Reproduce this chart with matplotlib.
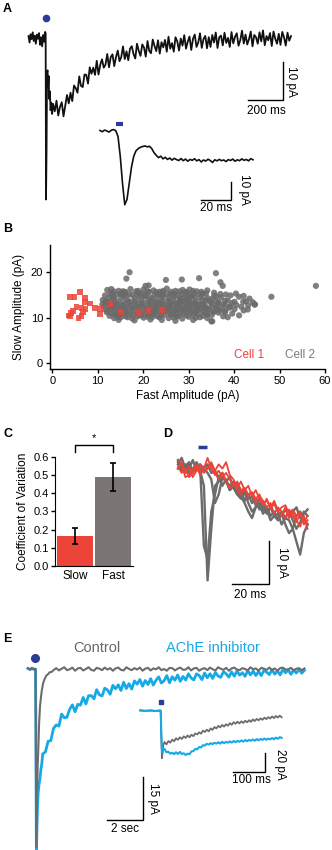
import numpy as np
import matplotlib
matplotlib.use("Agg")
from matplotlib import pyplot as plt

plt.rcParams['font.family'] = ['Liberation Sans', 'DejaVu Sans']

W, H = 332, 850
BLACK = '#111111'
BLUE = '#2c3d99'
RED = '#ec4438'
GRAY = '#6c6c6c'
BARGRAY = '#7b7575'
CYAN = '#15a9e6'

# ---- panel A: evoked current (ms, pA) ----
a_t_early = [-100, -94, -88, -82, -76, -70, -64, -58, -52, -46, -40, -34, -28, -22, -16, -10, -5, -2,
             0, 3, 6, 9, 12, 15, 18, 22, 26, 30, 35]
a_i_early = [0.5, -1.2, 1.0, -0.3, 1.5, -0.8, 0.6, -1.5, 0.9, -0.2, 1.3, -1.8, 0.2, -2.2, 0.8, -1.0, 1.6, 1.2,
             -42.5, -30, -9, -8.5, -13, -10, -16, -14, -19, -17, -20]
# sampled every 10 ms from 40 ms
a_i_late = [-17.3, -19.3, -16.5, -20.4, -18.1, -16.9, -20.6, -17.8, -15.0, -17.2,
            -14.4, -16.6, -12.5, -13.2, -14.4, -10.1, -12.6, -12.9, -9.6, -9.7,
            -12.0, -7.7, -9.4, -7.8, -9.7, -6.0, -9.6, -7.0, -5.6, -7.8,
            -7.0, -4.2, -7.7, -5.0, -4.3, -7.4, -5.0, -3.3, -6.1, -5.05,
            -2.2, -5.55, -3.5, -5.85, -2.8, -2.15, -4.2, -5.4, -1.5, -3.4,
            -4.7, -1.7, -2.5, -4.9, -0.8, -3.4, -4.0, -0.4, -2.1, -3.45,
            -0.6, -4.1, -1.1, -2.45, -0.5, -3.6, 0.35, -2.8, -1.35, -3.6,
            0.2, -0.85, -3.3, -0.15, -2.0, 0.75, -2.8, -0.95, 0.4, -3.15,
            -0.2, 0.9, -2.35, -1.2, 1.25, -2.6, -0.28, 0.55, -2.7, 0.22,
            -2.35, 0.8, -1.18, 1.45, -2.62, 0.2, 0.62, -1.95, 1.38, -1.3,
            0.02, -2.35, 1.57, -1.4, 0.32, 1.25, -2.03, -0.6, 1.92, -1.45,
            0.9, -1.7, -0.3, 1.7, -2.2, 0.8, 0.2, -1.5, 1.5, -0.9,
            2.0, -1.9, 0.5, -0.6, 1.3, -2.1, 1.7, -0.2, -1.5, 1.1,
            -1.8, 1.6, 0.2, -2.0, 1.4, -0.7, 0.5]
a_t_late = 40 + 10 * np.arange(len(a_i_late))

# inset of panel A, sampled every 1.5 ms
a_ins_i = [0.3, -0.4, 0.5, 0.1, -0.6, 0.4, 0.8, 0.2, -3, -14, -29, -41, -38, -29, -20, -14, -11, -9.8,
           -9, -8.6, -8.3, -8.8, -8.5, -9.8, -12, -13.5, -14.8, -14, -15.5, -14.6, -15.8, -15, -16.2,
           -15.2, -15.9, -16.4, -15.3, -16.5, -15.6, -16.8, -15.8, -16.3, -15.4, -16.6, -15.9, -17.2,
           -16.1, -16.7, -15.7, -16.4, -17.5, -16, -16.6, -15.8, -16.5, -16.1, -17, -15.9, -16.4, -15.6,
           -16.8, -16, -16.5, -15.5, -16.3, -15.8, -16.6, -15.4, -16]
a_ins_t = 1.5 * np.arange(len(a_ins_i))

# ---- panel B: scatter ----
gray_fast = [12.1, 14.6, 17.2, 18.4, 20.1, 22.3, 23.6, 25.2, 27.1, 28.7, 30.2, 31.8, 34.1,
             13.2, 16.1, 19.2, 21.3, 24.2, 26.1, 29.3, 31.2, 33.1, 35.6, 38.2, 40.4,
             11.6, 14.1, 15.6, 17.6, 20.4, 22.6, 24.4, 27.6, 30.6, 32.4, 36.1, 39.2, 42.1,
             12.4, 15.1, 18.1, 21.6, 23.1, 25.6, 28.1, 29.6, 31.4, 34.2, 37.1, 41.1, 43.4,
             11.1, 13.6, 16.6, 19.6, 22.1, 24.1, 26.6, 28.4, 30.1, 33.1, 35.1, 38.6, 42.6,
             12.0, 14.4, 17.1, 20.1, 21.1, 23.4, 25.1, 27.1, 29.1, 31.1, 34.6, 36.6, 40.1, 44.1,
             11.0, 13.1, 15.6, 18.1, 19.6, 22.6, 24.6, 26.1, 28.1, 30.6, 32.1, 35.1, 37.6, 43.1,
             12.6, 14.1, 16.1, 18.6, 21.1, 23.1, 25.6, 27.6, 29.6, 31.6, 33.6, 36.1, 39.1, 41.6, 44.6,
             11.5, 13.6, 15.1, 17.6, 20.1, 22.1, 24.1, 26.1, 28.6, 30.1, 32.6, 34.6, 37.1, 40.1,
             12.1, 14.6, 16.6, 19.1, 21.6, 23.6, 25.1, 27.1, 29.1, 31.1, 33.1, 35.6, 38.1, 42.1,
             13.1, 15.6, 17.1, 18.6, 20.6, 22.6, 26.6, 28.1, 30.6, 32.1, 34.1, 36.6, 39.6,
             12.6, 14.1, 16.1, 19.6, 21.1, 23.1, 24.6, 27.6, 29.6, 33.1, 35.1, 37.6, 41.1,
             13.6, 15.1, 17.6, 20.1, 22.1, 25.6, 26.6, 28.6, 31.6, 34.1, 38.6,
             14.6, 18.1, 21.6, 24.1, 27.1, 31.0, 35.0,
             58.0, 48.2, 36.0, 17.0, 16.3, 25.0, 28.5, 32.3, 37.0, 37.5, 20.5, 21.2, 13.0, 15.5, 44.5,
             35.2, 43.0, 42.0,
             13.5, 15.9, 18.9, 21.0, 22.9, 24.4, 26.2, 28.0, 29.5, 31.0, 32.8,
             12.8, 15.0, 16.9, 18.7, 20.0, 23.5, 25.3, 26.8, 28.5, 30.0, 33.8, 37.0,
             13.5, 16.2, 19.2, 20.6, 24.2, 26.9, 29.0, 30.8, 32.8, 35.6,
             11.8, 13.1, 15.5, 18.2, 21.6, 22.8, 25.8, 28.0, 30.0, 32.0, 33.9, 36.0, 38.0,
             12.3, 14.2, 16.6, 19.0, 21.5, 23.8, 26.0, 27.6, 29.5, 31.4, 33.2, 36.5, 39.5,
             11.5, 13.3, 15.3, 17.3, 19.8, 22.0, 24.2, 26.6, 28.7, 30.8, 32.8, 35.0, 38.0, 40.5,
             12.8, 14.8, 16.8, 18.9, 21.0, 23.0, 25.3, 27.4, 29.6, 31.7, 33.8, 36.0, 39.0,
             13.2, 15.8, 17.8, 20.5, 22.8, 24.6, 26.5, 28.3, 30.4, 32.0, 34.2, 36.8,
             12.0, 14.2, 16.2, 19.8, 21.8, 24.0, 25.5, 27.3, 29.4, 31.5, 33.5, 35.5, 38.0,
             13.8, 15.2, 17.8, 19.0, 22.2, 24.0, 26.0, 28.8, 31.0, 34.0,
             14.5, 16.6, 18.8, 21.0, 23.5, 27.5, 30.0, 32.5]
gray_slow = [16.1, 15.9, 16.3, 15.8, 16.2, 16.0, 15.7, 16.4, 15.9, 16.1, 16.2, 15.8, 16.0,
             15.4, 15.6, 15.3, 15.7, 15.5, 15.2, 15.6, 15.4, 15.3, 15.5, 15.1, 15.3,
             14.9, 15.1, 14.8, 15.0, 14.7, 15.2, 14.9, 15.0, 14.8, 15.1, 14.7, 14.9, 14.8,
             14.4, 14.6, 14.3, 14.5, 14.7, 14.4, 14.2, 14.6, 14.5, 14.3, 14.4, 14.6, 14.2,
             13.9, 14.1, 13.8, 14.0, 14.2, 13.9, 14.1, 13.8, 14.0, 13.9, 14.1, 13.8, 13.6,
             13.4, 13.6, 13.5, 13.3, 13.7, 13.4, 13.6, 13.3, 13.5, 13.4, 13.6, 13.2, 13.5, 13.4,
             12.9, 13.1, 12.8, 13.0, 12.9, 13.2, 12.8, 13.0, 13.1, 12.9, 12.8, 13.1, 12.9, 12.7,
             12.4, 12.6, 12.3, 12.5, 12.7, 12.4, 12.6, 12.3, 12.5, 12.4, 12.6, 12.3, 12.5, 12.4, 12.9,
             11.9, 12.1, 11.8, 12.0, 12.2, 11.9, 12.1, 11.8, 12.0, 11.9, 12.1, 11.8, 12.0, 11.9,
             11.4, 11.6, 11.3, 11.5, 11.7, 11.4, 11.6, 11.3, 11.5, 11.4, 11.6, 11.3, 11.5, 11.6,
             10.9, 11.1, 10.8, 11.0, 10.9, 11.2, 10.8, 11.0, 11.1, 10.9, 10.8, 11.1, 10.9,
             10.4, 10.6, 10.3, 10.5, 10.7, 10.4, 10.6, 10.3, 10.5, 10.4, 10.6, 10.3, 10.5,
             9.9, 10.1, 9.8, 10.0, 10.2, 9.9, 10.1, 9.8, 10.0, 9.9, 10.1,
             9.5, 9.4, 9.6, 9.5, 9.3, 9.5, 9.2,
             17.0, 14.6, 19.8, 20.0, 18.6, 18.3, 18.4, 18.7, 17.8, 17.0, 17.0, 17.1, 16.3, 15.8, 12.9,
             9.2, 11.8, 13.5,
             15.8, 15.7, 15.9, 15.8, 15.6, 15.9, 15.7, 15.8, 15.6, 15.9, 15.7,
             15.2, 15.3, 15.1, 15.2, 15.3, 15.1, 15.2, 15.3, 15.1, 15.2, 15.3, 15.2,
             14.6, 14.7, 14.6, 14.8, 14.6, 14.7, 14.5, 14.7, 14.6, 14.8,
             13.7, 13.8, 13.6, 13.7, 13.8, 13.6, 13.7, 13.8, 13.6, 13.7, 13.8, 13.6, 13.7,
             13.2, 13.1, 13.3, 13.2, 13.1, 13.3, 13.2, 13.1, 13.3, 13.2, 13.1, 13.3, 13.2,
             12.7, 12.8, 12.6, 12.7, 12.8, 12.6, 12.7, 12.8, 12.6, 12.7, 12.8, 12.6, 12.7, 12.8,
             12.2, 12.1, 12.3, 12.2, 12.1, 12.3, 12.2, 12.1, 12.3, 12.2, 12.1, 12.3, 12.2,
             11.7, 11.8, 11.6, 11.7, 11.8, 11.6, 11.7, 11.8, 11.6, 11.7, 11.8, 11.6,
             11.2, 11.1, 11.3, 11.2, 11.1, 11.3, 11.2, 11.1, 11.3, 11.2, 11.1, 11.3, 11.2,
             10.7, 10.8, 10.6, 10.7, 10.8, 10.6, 10.7, 10.8, 10.6, 10.7,
             10.2, 10.1, 10.3, 10.2, 10.1, 10.3, 10.2, 10.1]
red_fast = [3.9, 6.1, 4.9, 7.2, 3.9, 4.6, 6.4, 7.3, 6.4, 8.3, 9.4, 10.5, 12.8, 15.1, 19.0, 21.2, 24.1,
            5.3, 6.8, 7.2, 10.5, 4.1, 3.6, 5.8]
red_slow = [14.6, 15.6, 14.6, 14.4, 10.3, 11.5, 12.2, 11.9, 10.3, 13.1, 12.2, 10.8, 13.0, 11.2, 11.0,
            11.7, 11.7, 12.4, 11.2, 13.5, 11.9, 11.0, 10.5, 10.0]

# ---- panel C: coefficient of variation ----
cv_labels = ['Slow', 'Fast']
cv_mean = [0.165, 0.49]
cv_err = [0.046, 0.078]

# ---- panel D: single sweeps, 2 ms sampling ----
d_red = [
    [-1.5, -3, -2, -4, -3, -1.5, -3.5, -2, 0.5, -2, -3.5, -2.5, -4, -3, -4.5, -6, -5, -7, -6.5, -8,
     -7.5, -9, -8, -10, -9.5, -11, -9.5, -12, -11, -10.5, -12.5, -11.5, -13, -12, -14.5, -13],
    [0, -1, -4, -3.5, -2, -1, -2.5, -1.5, -2, -0.5, -2.5, -1, -2, -0.5, -3.5, -4.5, -6.5, -5, -7, -6,
     -8.5, -7, -9, -10.5, -9, -11.5, -10, -12, -13, -11, -13.5, -12, -14, -15.5, -13, -16],
    [-2, -0.5, -3, -1.5, -4, -2.5, -1, -3, -2, -1, -3, -4.5, -3, -5, -6.5, -5.5, -7, -8, -6.5, -8.5,
     -7.5, -10, -8.5, -9.5, -11, -10, -12.5, -11, -12, -13.5, -11.5, -13, -14.5, -12.5, -15, -14],
]
d_gray = [
    [0, -2, -1, -3, -2, -1, -2.5, -6, -28, -16, -6, -5, -4, -5, -7, -6, -8, -9, -7.5, -10,
     -12, -11, -10.5, -12.5, -11, -13, -12, -14, -12.5, -15, -17, -16, -13, -12, -13.5, -15],
    [-1, 0.5, -2, -1, -3, -0.5, -2, -20, -23, -12, -8, -4, -3, -5, -4, -6.5, -8, -7, -9.5, -8,
     -10, -9, -11.5, -10, -12, -11, -13, -14, -12, -13.5, -12, -14, -16, -14.5, -12, -13],
    [-2, -1, -3, -2, 0, -2.5, -1, -2, -3, -4.5, -10, -8, -4, -5, -6, -5, -7, -8.5, -10, -12,
     -13.5, -11, -10, -12, -11.5, -14, -13, -12.5, -15, -13.5, -14, -16, -19, -22, -17, -15],
    [-0.5, -2.5, -1.5, -0.5, -3, -1.5, -3, -2, -1, -3, -2.5, -4, -6, -4.5, -7, -6, -5.5, -8, -7, -9,
     -8.5, -10.5, -9, -11, -12.5, -11, -10, -12, -13, -11.5, -13, -12, -11, -13.5, -12.5, -11.5],
]
d_t = 2.0 * np.arange(len(d_red[0]))

# ---- panel E: control vs AChE inhibitor (s, pA) ----
e_gray_t = [-0.42, -0.3, -0.2, -0.1, 0, 0.02, 0.04, 0.08, 0.12, 0.16, 0.2, 0.25, 0.3, 0.35, 0.42, 0.5,
            0.6, 0.7, 0.8, 0.9, 1.0]
e_gray_i = [0.2, -0.2, 0.3, -0.1, 0, -25, -62, -45, -34, -27, -19, -13, -10, -7.5, -5, -3.6, -2.3,
            -1.8, -1.1, -1.0, -0.4]
# every 0.15 s from 1.15 s
e_gray_late = [0.3, -0.5, 0.1, 0.6, -0.4, -0.1, 0.5, -0.6, 0.2, 0.4, -0.5, 0.0, 0.6, -0.3, -0.6, 0.4,
               0.1, -0.4, 0.5, -0.2, 0.3, -0.6, 0.2, 0.5, -0.3, -0.5, 0.6, 0.0, -0.4, 0.3, -0.2, 0.5,
               -0.6, 0.1, 0.4, -0.5, 0.2, -0.1, 0.6, -0.4, 0.0, -0.6, 0.4, 0.3, -0.5, 0.1, 0.5, -0.3,
               -0.2, 0.6, -0.5, 0.2, 0.4, -0.6, 0.0, 0.3, -0.4, 0.5, -0.1, -0.5, 0.6, 0.1, -0.3, 0.4,
               -0.6, 0.2, 0.5, -0.2, -0.4, 0.3, 0.0, -0.5, 0.6, -0.1, 0.2, -0.6, 0.4, 0.1, -0.3, 0.5,
               -0.4, 0.2, -0.6, 0.3, 0.5, -0.2, -0.1, 0.4, -0.5, 0.1, 0.3, -0.4, 0.2]
e_blue_t = [-0.42, -0.3, -0.2, -0.1, 0, 0.02, 0.05, 0.08, 0.11, 0.15, 0.2, 0.25, 0.3, 0.35]
e_blue_i = [0.2, -0.2, 0.3, -0.1, 0, -20, -64, -55, -48, -43, -40, -38, -35, -33]
# every 0.15 s from 0.4 s
e_blue_late = [-29.6, -28.9, -25.2, -25.0, -20.7, -19.5, -19.9, -15.7, -17.0, -16.8,
               -14.0, -12.5, -14.9, -12.3, -12.6, -9.9, -12.2, -9.3, -9.3, -10.4,
               -7.2, -9.0, -9.4, -6.7, -7.3, -8.8, -5.7, -6.9, -5.5, -7.5,
               -4.6, -6.8, -5.1, -7.0, -4.15, -5.3, -3.65, -6.0, -4.0, -5.4,
               -3.35, -5.6, -3.9, -2.75, -4.9, -4.1, -2.3, -4.8, -2.7, -3.9,
               -2.1, -4.3, -2.6, -3.85, -1.65, -3.1, -3.8, -1.7, -2.25, -3.7,
               -1.4, -3.05, -1.65, -3.3, -1.2, -2.45, -2.9, -0.95, -1.7, -2.85,
               -1.0, -2.5, -0.68, -2.15, -1.3, -2.55, -0.6, -2.05, -0.7, -2.28,
               -0.85, -2.3, -0.45, -1.1, -1.95, -0.22, -1.8, -0.68, -2.05, -0.22,
               -1.3, -0.3, -1.85, -0.35, -1.4, -0.1, -1.48, -0.45]

# inset of panel E (ms, pA)
e_ins_pre_t = [-64, -48, -32, -16, -4, 0, 2, 4, 6, 8]
e_ins_gray_pre = [0.3, -0.2, 0.2, -0.3, 0.1, 0, -30, -50, -42, -36]
e_ins_blue_pre = [0.3, -0.2, 0.2, -0.3, 0.1, 0, -25, -42, -44, -40]
e_ins_gray = [-33, -35.5, -32, -33.7, -30.5, -32.2, -29, -30.7, -28, -29.8, -27, -28.7, -26, -28,
              -25.3, -26.8, -24, -25, -22.8, -24.2, -21, -22.5, -20, -21.8, -18.6, -20.2, -17.2,
              -18.7, -16, -17.6, -15, -16.8, -14.3, -15.9, -13.2, -14.8, -12.1, -13.8, -11.6, -13.4,
              -11.2, -12.9, -10.6, -12.2, -10.1, -11.8, -9.2, -10.9, -8.6, -10.2, -8.1, -9.6, -7.3,
              -8.9, -6.8, -8.2, -6.1, -7.8, -5.6, -7.3, -5.3, -6.9]
e_ins_blue = [-40.4, -43.7, -43.3, -45.2, -44.3, -45.7, -43.8, -45.6, -43.4, -45.7, -44.8, -46.7,
              -45.3, -45.8, -42.9, -42.6, -40.3, -40.7, -38.3, -38.7, -36.4, -36.7, -34.9, -35.7,
              -34.3, -35.2, -33.8, -34.7, -33.3, -34.7, -32.8, -34.2, -32.9, -33.7, -32.3, -33.6,
              -31.9, -33.2, -31.8, -32.7, -31.3, -32.6, -30.9, -32.1, -30.8, -31.7, -30.3, -31.6,
              -29.9, -31.2, -29.8, -30.7, -29.3, -30.6, -29.4, -30.2, -28.8, -30.1, -28.4, -29.6,
              -27.9, -28.6]
e_ins_t = 12 + 6 * np.arange(len(e_ins_gray))


fig = plt.figure(figsize=(W / 100, H / 100), dpi=100)


def px_axes(x0, y0, x1, y1):
    return fig.add_axes([x0 / W, 1 - y1 / H, (x1 - x0) / W, (y1 - y0) / H])


def letter(x, y, s):
    fig.text(x / W, 1 - y / H, s, fontsize=9, fontweight='bold', va='center', ha='left')


def scalebar(ax, x_right, y_bottom, dx, dy):
    ax.plot([x_right - dx, x_right, x_right], [y_bottom, y_bottom, y_bottom + dy],
            color='black', lw=1.0, clip_on=False, solid_joinstyle='miter')


# panel A main
ax = px_axes(20, 10, 300, 210)
ax.plot(a_t_early + list(a_t_late), a_i_early + a_i_late, color=BLACK, lw=1.3)
ax.plot([0], [5.3], 'o', color=BLUE, ms=4.5, clip_on=False)
scalebar(ax, 1354, -16.3, 200, 10)
ax.text(1400, -11.3, '10 pA', rotation=-90, fontsize=8.5, ha='center', va='center')
ax.text(1257, -17.6, '200 ms', fontsize=8.5, ha='center', va='top')
ax.set_xlim(-148.6, 1451.4)
ax.set_ylim(-45.26, 7.37)
ax.axis('off')

# panel A inset
ax = px_axes(95, 115, 270, 215)
ax.plot(a_ins_t, a_ins_i, color=BLACK, lw=1.2)
ax.plot([10.7, 15.3], [3.9, 3.9], color=BLUE, lw=3, solid_capstyle='butt')
scalebar(ax, 87.4, -38.3, 20, 10)
ax.text(96.3, -32.5, '10 pA', rotation=-90, fontsize=8.5, ha='center', va='center')
ax.text(77.4, -39.6, '20 ms', fontsize=8.5, ha='center', va='top')
ax.set_xlim(-3.33, 113.3)
ax.set_ylim(-46.7, 8.9)
ax.axis('off')

# panel B
letter(3, 229, 'B')
ax = px_axes(50, 245, 325, 369)
ax.scatter(gray_fast, gray_slow, s=20, color='#6a6a6a', alpha=0.85, edgecolors='none', zorder=2)
ax.scatter(red_fast, red_slow, s=17, marker='s', color=RED, alpha=0.85, edgecolors='none', zorder=3)
ax.set_xlim(-0.5, 60)
ax.set_ylim(-1.3, 26)
ax.set_xticks([0, 10, 20, 30, 40, 50, 60])
ax.set_yticks([0, 10, 20])
for side in ['top', 'right']:
    ax.spines[side].set_visible(False)
for side in ['left', 'bottom']:
    ax.spines[side].set_linewidth(1.0)
ax.tick_params(labelsize=8, length=3, width=1.0, pad=2)
ax.set_xlabel('Fast Amplitude (pA)', fontsize=8.5, labelpad=3)
ax.set_ylabel('Slow Amplitude (pA)', fontsize=8.5, labelpad=4)
ax.text(43.3, 1.8, 'Cell 1', color=RED, fontsize=8.5, ha='center', va='center')
ax.text(54.5, 1.8, 'Cell 2', color='#7a7a7a', fontsize=8.5, ha='center', va='center')

# panel C
letter(3, 434, 'C')
ax = px_axes(55, 456.7, 133, 566)
ax.bar([0, 1], cv_mean, width=0.94, color=[RED, BARGRAY])
ax.errorbar([0, 1], cv_mean, yerr=cv_err, fmt='none', ecolor='black', elinewidth=1.2, capsize=2,
            capthick=1.2)
ax.plot([0, 0, 1, 1], [0.627, 0.662, 0.662, 0.627], color='black', lw=1.0, clip_on=False)
ax.text(0.5, 0.675, '*', fontsize=8, ha='center', va='bottom')
ax.set_xlim(-0.52, 1.51)
ax.set_ylim(0, 0.6)
ax.set_yticks([0, 0.1, 0.2, 0.3, 0.4, 0.5, 0.6])
ax.set_yticklabels(['0.0', '0.1', '0.2', '0.3', '0.4', '0.5', '0.6'])
ax.set_xticks([0, 1])
ax.set_xticklabels(cv_labels)
for side in ['top', 'right']:
    ax.spines[side].set_visible(False)
ax.tick_params(axis='y', labelsize=8, length=3, width=1.0, pad=1.5)
ax.tick_params(axis='x', labelsize=8.5, length=0, pad=3)
ax.set_ylabel('Coefficient of Variation', fontsize=8.5, labelpad=3)

# panel D
letter(163, 434, 'D')
ax = px_axes(175, 445, 312, 600)
for tr in d_gray:
    ax.plot(d_t, tr, color=GRAY, lw=1.7)
for tr in d_red:
    ax.plot(d_t, tr, color=RED, lw=1.3)
ax.plot([10.8, 15.6], [3.0, 3.0], color=BLUE, lw=2.5, solid_capstyle='butt', clip_on=False)
scalebar(ax, 49.1, -28.84, 20, 10)
ax.text(56.3, -23.8, '10 pA', rotation=-90, fontsize=8.5, ha='center', va='center')
ax.text(39.1, -30.0, '20 ms', fontsize=8.5, ha='center', va='top')
ax.set_xlim(-1.6, 72.4)
ax.set_ylim(-32.56, 3.49)
ax.axis('off')

# panel E main
letter(3, 639, 'E')
fig.text(97 / W, 1 - 648 / H, 'Control', color='#666666', fontsize=10.5, ha='center', va='center')
fig.text(213 / W, 1 - 648 / H, 'AChE inhibitor', color=CYAN, fontsize=10.5, ha='center', va='center')
ax = px_axes(20, 650, 310, 850)
e_gray_late_t = 1.15 + 0.15 * np.arange(len(e_gray_late))
e_blue_late_t = 0.4 + 0.15 * np.arange(len(e_blue_late))
ax.plot(e_blue_t + list(e_blue_late_t), e_blue_i + e_blue_late, color=CYAN, lw=2.0)
ax.plot(e_gray_t + list(e_gray_late_t), e_gray_i + e_gray_late, color=GRAY, lw=1.5)
ax.plot([-0.03], [3.8], 'o', color=BLUE, ms=5.5, clip_on=False)
scalebar(ax, 5.98, -52.6, 2, 15)
ax.text(6.55, -45.1, '15 pA', rotation=-90, fontsize=8.5, ha='center', va='center')
ax.text(4.98, -53.5, '2 sec', fontsize=8.5, ha='center', va='top')
ax.set_xlim(-0.862, 15.26)
ax.set_ylim(-63.07, 6.62)
ax.axis('off')

# panel E inset
ax = px_axes(135, 695, 300, 790)
ax.plot(e_ins_pre_t + list(e_ins_t), e_ins_gray_pre + e_ins_gray, color=GRAY, lw=1.3)
ax.plot(e_ins_pre_t + list(e_ins_t), e_ins_blue_pre + e_ins_blue, color=CYAN, lw=1.5)
ax.plot([0], [9.2], 's', color=BLUE, ms=2.8, clip_on=False)
scalebar(ax, 326, -64.5, 100, 20)
ax.text(374, -57.0, '20 pA', rotation=-90, fontsize=8.5, ha='center', va='center')
ax.text(285, -66.5, '100 ms', fontsize=8.5, ha='center', va='top')
ax.set_xlim(-80.3, 435.3)
ax.set_ylim(-83.5, 16.5)
ax.axis('off')

letter(3, 9, 'A')

fig.savefig('out.png', dpi=100)
